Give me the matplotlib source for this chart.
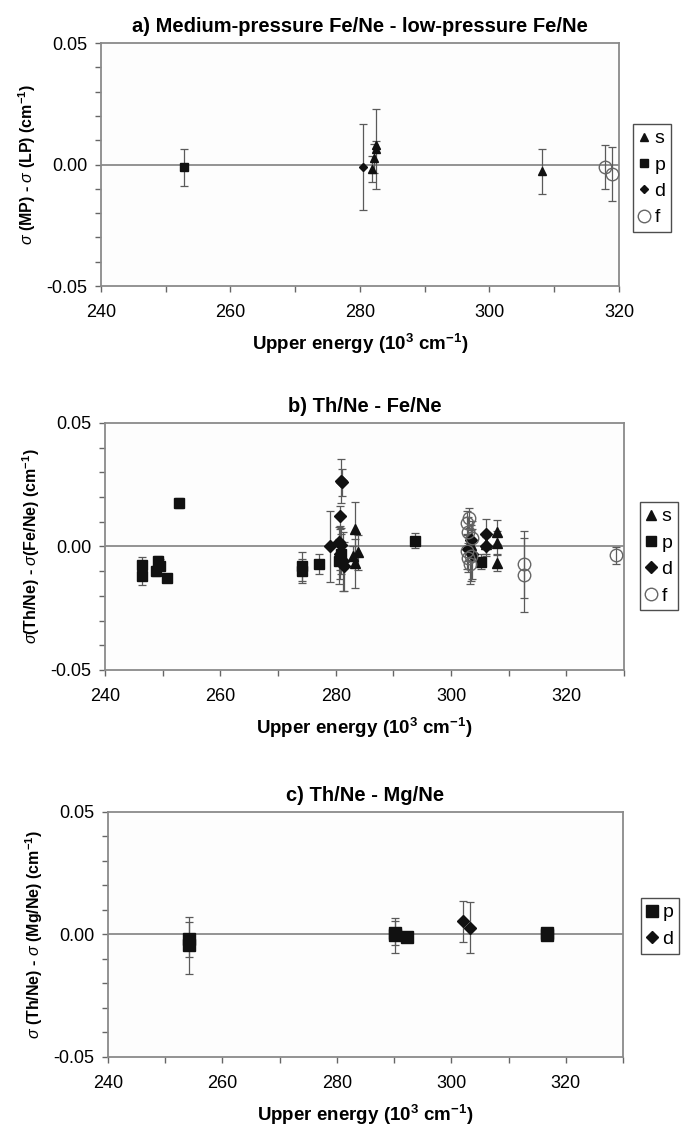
import matplotlib
matplotlib.use('Agg')
import matplotlib.pyplot as plt
from matplotlib.ticker import MultipleLocator, FormatStrFormatter

plt.rcParams['font.family'] = ['Liberation Sans', 'DejaVu Sans']
plt.rcParams['axes.unicode_minus'] = False
plt.rcParams['mathtext.fontset'] = 'custom'
plt.rcParams['mathtext.rm'] = 'Liberation Sans:bold'
plt.rcParams['mathtext.it'] = 'Liberation Sans:italic'
plt.rcParams['mathtext.bf'] = 'Liberation Sans:bold'

# a) medium-pressure Fe/Ne - low-pressure Fe/Ne
a_s_x = [281.9, 282.2, 282.5, 282.4, 308.1]
a_s_y = [-0.0018, 0.0025, 0.0065, 0.0080, -0.0028]
a_s_err = [0.0055, 0.0060, 0.0165, 0.0015, 0.0093]
a_p_x = [252.8]
a_p_y = [-0.0012]
a_p_err = [0.0076]
a_d_x = [280.4]
a_d_y = [-0.0010]
a_d_err = [0.0178]
a_f_x = [317.9, 318.9]
a_f_y = [-0.0010, -0.0040]
a_f_err = [0.0092, 0.0110]

# b) Th/Ne - Fe/Ne
b_s_x = [283.3, 283.3, 283.9, 283.0, 307.9, 307.9, 307.9, 306.0, 303.4]
b_s_y = [0.0070, -0.0068, -0.0024, -0.0038, 0.0058, 0.0014, -0.0065, 0.0010, 0.0005]
b_s_err = [0.0110, 0.0100, 0.0070, 0.0040, 0.0050, 0.0050, 0.0035, 0.0040, 0.0060]
b_p_x = [246.4, 246.4, 248.8, 249.2, 249.6, 250.8, 252.8, 274.2, 274.2, 277.1,
         293.8, 305.2, 281.0, 280.6]
b_p_y = [-0.0074, -0.0118, -0.0099, -0.0058, -0.0081, -0.0126, 0.0176, -0.0081,
         -0.0099, -0.0072, 0.0023, -0.0061, -0.0030, -0.0060]
b_p_err = [0.0030, 0.0040, 0.0020, 0.0020, 0.0030, 0.0010, 0.0020, 0.0060,
           0.0050, 0.0040, 0.0030, 0.0030, 0.0080, 0.0090]
b_d_x = [279.0, 281.0, 281.1, 280.8, 280.5, 280.8, 281.2, 281.5, 280.7, 281.0,
         303.0, 303.4, 303.6, 306.1, 306.0]
b_d_y = [0.0000, 0.0265, 0.0260, 0.0122, 0.0020, -0.0030, -0.0060, -0.0080,
         -0.0045, 0.0005, -0.0010, 0.0025, -0.0030, 0.0051, 0.0000]
b_d_err = [0.0145, 0.0090, 0.0055, 0.0040, 0.0060, 0.0100, 0.0120, 0.0100,
           0.0050, 0.0070, 0.0050, 0.0060, 0.0100, 0.0060, 0.0040]
b_f_x = [302.7, 303.2, 303.0, 302.8, 303.5, 303.3, 303.0, 303.6, 312.7, 312.7, 328.6]
b_f_y = [0.0095, 0.0115, 0.0060, -0.0020, -0.0040, -0.0070, -0.0045, 0.0035,
         -0.0072, -0.0117, -0.0036]
b_f_err = [0.0050, 0.0040, 0.0060, 0.0070, 0.0100, 0.0080, 0.0060, 0.0070,
           0.0135, 0.0150, 0.0035]

# c) Th/Ne - Mg/Ne
c_p_x = [254.1, 254.1, 290.2, 290.2, 292.3, 316.7, 316.7]
c_p_y = [-0.0020, -0.0045, -0.0003, 0.0005, -0.0010, -0.0003, 0.0005]
c_p_err = [0.0070, 0.0115, 0.0072, 0.0050, 0.0010, 0.0010, 0.0010]
c_d_x = [302.1, 303.3]
c_d_y = [0.0054, 0.0027]
c_d_err = [0.0084, 0.0104]

styles = {
    's': dict(marker='^', mfc='#111111', mec='#111111'),
    'p': dict(marker='s', mfc='#111111', mec='#111111'),
    'd': dict(marker='D', mfc='#111111', mec='#111111'),
    'f': dict(marker='o', mfc='none', mec='#666666'),
}

fig = plt.figure(figsize=(6.85, 11.26), dpi=100, facecolor='white')

panels = [
    dict(rect=[0.1474, 0.746, 0.7562, 0.2158], xmax=320,
         title='a) Medium-pressure Fe/Ne - low-pressure Fe/Ne',
         ylabel=r'$\sigma$ (MP) - $\sigma$ (LP) (cm$^{\mathrm{-1}}$)',
         series=[('s', a_s_x, a_s_y, a_s_err), ('p', a_p_x, a_p_y, a_p_err),
                 ('d', a_d_x, a_d_y, a_d_err), ('f', a_f_x, a_f_y, a_f_err)],
         msize={'s': 6, 'p': 6, 'd': 4.5, 'f': 9}, leg=(1.027, 0.667)),
    dict(rect=[0.1533, 0.405, 0.7577, 0.2194], xmax=330,
         title='b) Th/Ne - Fe/Ne',
         ylabel=r'$\sigma$(Th/Ne) - $\sigma$(Fe/Ne) (cm$^{\mathrm{-1}}$)',
         series=[('s', b_s_x, b_s_y, b_s_err), ('p', b_p_x, b_p_y, b_p_err),
                 ('d', b_d_x, b_d_y, b_d_err), ('f', b_f_x, b_f_y, b_f_err)],
         msize={'s': 7, 'p': 7, 'd': 6, 'f': 9}, leg=(1.031, 0.680)),
    dict(rect=[0.1577, 0.0613, 0.7518, 0.2176], xmax=330,
         title='c) Th/Ne - Mg/Ne',
         ylabel=r'$\sigma$ (Th/Ne) - $\sigma$ (Mg/Ne) (cm$^{\mathrm{-1}}$)',
         series=[('p', c_p_x, c_p_y, c_p_err), ('d', c_d_x, c_d_y, c_d_err)],
         msize={'p': 8, 'd': 6}, leg=(1.035, 0.649)),
]

for pn in panels:
    ax = fig.add_axes(pn['rect'])
    ax.set_facecolor('#fdfdfd')
    ax.axhline(0, color='#8a8a8a', lw=1.3, zorder=1)
    handles = []
    for key, xs, ys, es in pn['series']:
        st = styles[key]
        ax.errorbar(xs, ys, yerr=es, fmt='none', ecolor='#5a5a5a', elinewidth=0.9,
                    capsize=3, capthick=0.9, zorder=2)
        h, = ax.plot(xs, ys, linestyle='none', marker=st['marker'],
                     markerfacecolor=st['mfc'], markeredgecolor=st['mec'],
                     markersize=pn['msize'][key], markeredgewidth=1.0, zorder=3,
                     label=key)
        handles.append(h)
    ax.set_xlim(240, pn['xmax'])
    ax.set_ylim(-0.05, 0.05)
    ax.xaxis.set_major_locator(MultipleLocator(20))
    ax.xaxis.set_minor_locator(MultipleLocator(10))
    ax.yaxis.set_major_locator(MultipleLocator(0.05))
    ax.yaxis.set_minor_locator(MultipleLocator(0.01))
    ax.yaxis.set_major_formatter(FormatStrFormatter('%.2f'))
    ax.tick_params(which='both', direction='out', length=4, width=1.0,
                   color='#666666', labelsize=13, pad=6)
    ax.tick_params(axis='x', which='major', pad=9)
    for sp in ax.spines.values():
        sp.set_color('#8a8a8a')
        sp.set_linewidth(1.3)
    ax.set_title(pn['title'], fontsize=14.5, fontweight='bold', pad=8)
    ax.set_xlabel('Upper energy (10$^{\\mathrm{3}}$ cm$^{\\mathrm{-1}}$)',
                  fontsize=13.5, fontweight='bold', labelpad=8)
    ax.set_ylabel(pn['ylabel'], fontsize=11.5, fontweight='bold', labelpad=6)
    leg = ax.legend(handles=handles, loc='upper left', bbox_to_anchor=pn['leg'],
                    frameon=True, fancybox=False, fontsize=14, handlelength=0.55,
                    handletextpad=0.25, borderpad=0.3, labelspacing=0.45,
                    borderaxespad=0, markerscale=1.0)
    leg.get_frame().set_edgecolor('#222222')
    leg.get_frame().set_linewidth(1.0)

plt.savefig('out.png', dpi=100, facecolor='white')
